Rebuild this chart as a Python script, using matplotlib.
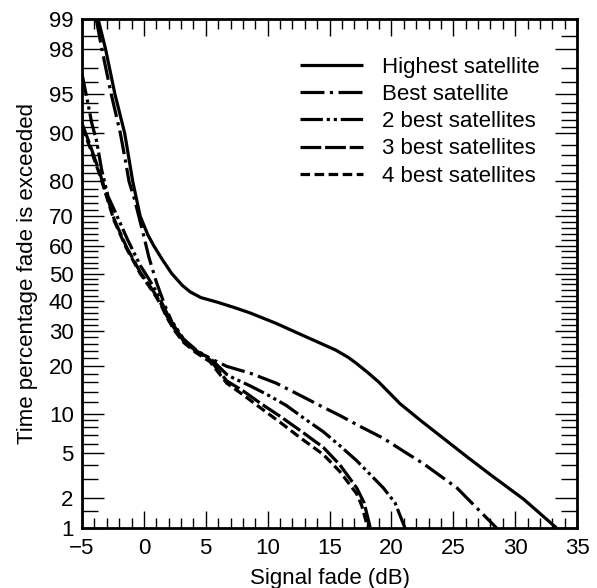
import numpy as np
import matplotlib
matplotlib.use("Agg")
import matplotlib.pyplot as plt
from matplotlib.ticker import FixedLocator, FixedFormatter, NullFormatter
from statistics import NormalDist

# ---------------- data ----------------
highest_fade = [-3.7, -3.1, -2.35, -1.55, -0.9, -0.3, 0.3, 0.8, 1.5, 2.25, 3.1, 3.75, 4.6, 5.9,
                7.3, 8.6, 10.7, 12.6, 14.2, 15.5, 16.5, 17.2, 18.2, 19.0, 20.7, 22.4, 24.2, 26.1,
                28.0, 30.7, 33.35]
highest_pct = [99, 98, 95, 90, 80, 70, 64, 60, 55, 50, 45.7, 43.3, 41.3, 39.7,
               37.8, 35.9, 32.4, 29.0, 26.3, 24.2, 22.2, 20.5, 18.0, 16.0, 11.7, 8.9, 6.6, 4.7,
               3.3, 1.95, 1.0]

best1_fade = [-3.85, -3.4, -2.65, -1.9, -1.5, -1.2, -0.75, -0.1, 0.4, 1.0, 1.7, 2.3, 3.2, 4.2,
              5.3, 6.7, 8.6, 10.7, 12.6, 14.2, 15.85, 17.6, 19.35, 21.0, 22.6, 25.3, 28.5]
best1_pct = [99, 98, 95, 90, 85, 80, 75, 65, 56, 47, 38.5, 32.5, 27, 24,
             22, 19.8, 18.1, 15.8, 13.3, 11.4, 9.7, 8.0, 6.6, 5.2, 4.1, 2.5, 1.0]

best2_fade = [-5.0, -4.49, -4.22, -3.81, -3.41, -2.9, -2.4, -1.3, -0.3, 0.4, 1.0, 1.5, 1.9,
              3.2, 4.3, 5.4, 6.7, 7.2, 8.6, 9.9, 11.5, 13.0, 14.5, 15.9, 17.2, 18.3, 19.35, 20.3, 21.1]
best2_pct = [96.6, 93.8, 91.6, 88.6, 82.8, 76, 72, 62, 53, 48, 43.5, 39, 35.5,
             27.5, 24, 21.8, 17.8, 17, 15.2, 13.5, 11.4, 9.2, 7.4, 5.7, 4.35, 3.3, 2.5, 1.8, 1.0]

best3_fade = [-5.0, -4.35, -3.55, -2.4, -1.4, -0.9, -0.3, 0.4, 1.0, 1.46, 1.84, 2.5, 3.19, 4.2,
              5.34, 6.7, 8.0, 9.4, 11.0, 12.6, 14.5, 15.85, 17.2, 17.8, 18.3]
best3_pct = [91.5, 88, 82, 69, 59.5, 55.5, 50.5, 46, 42, 38.5, 35, 30.5, 27, 24,
             21.5, 16.3, 14.2, 11.8, 9.6, 7.6, 5.6, 4.0, 2.5, 1.8, 1.0]

best4_fade = [-5.0, -4.35, -3.55, -2.4, -1.4, -0.9, -0.3, 0.4, 1.0, 1.46, 1.84, 2.5, 3.19, 4.2,
              5.34, 6.7, 8.0, 9.4, 11.0, 12.6, 14.5, 15.85, 17.2, 17.6, 18.1]
best4_pct = [91, 87.5, 81.5, 68.5, 59, 55, 50, 45.5, 41.5, 38, 34.5, 30, 26.5, 23.5,
             21, 15.8, 13.4, 11, 8.7, 6.7, 4.9, 3.5, 2.2, 1.7, 1.0]

labels = ["Highest satellite", "Best satellite", "2 best satellites",
          "3 best satellites", "4 best satellites"]

y_major = [1, 2, 5, 10, 20, 30, 40, 50, 60, 70, 80, 90, 95, 98, 99]
y_minor = [1.5, 3, 4, 6, 7, 8, 9, 12, 14, 16, 18, 22, 24, 26, 28, 32, 34, 36, 38,
           42, 44, 46, 48, 52, 54, 56, 58, 62, 64, 66, 68, 72, 74, 76, 78,
           82, 84, 86, 88, 91, 92, 93, 94, 96, 97, 98.5]
x_major = [-5, 0, 5, 10, 15, 20, 25, 30, 35]

# ---------------- probability (probit) scale ----------------
_nd = NormalDist()
_ppf = np.vectorize(_nd.inv_cdf, otypes=[float])
_cdf = np.vectorize(_nd.cdf, otypes=[float])

def fwd(p):
    p = np.clip(np.asarray(p, dtype=float) / 100.0, 1e-9, 1 - 1e-9)
    return _ppf(p)

def inv(z):
    return _cdf(np.asarray(z, dtype=float)) * 100.0

plt.rcParams['font.family'] = ['Liberation Sans', 'DejaVu Sans']

fig = plt.figure(figsize=(5.97, 5.88), dpi=100)
ax = fig.add_axes([82 / 597, 60 / 588, 495 / 597, 509 / 588])
ax.set_yscale('function', functions=(fwd, inv))

lw = 2.3
series = [
    (highest_fade, highest_pct, '-'),
    (best1_fade, best1_pct, (0, (7.5, 1.7, 1.0, 1.7))),
    (best2_fade, best2_pct, (0, (7.0, 1.2, 1.0, 1.2, 1.0, 1.2))),
    (best3_fade, best3_pct, (0, (6.5, 1.2))),
    (best4_fade, best4_pct, (0, (3.0, 1.4))),
]
for (xs, ys, ls), lab in zip(series, labels):
    ax.plot(xs, ys, color='black', lw=lw, linestyle=ls, label=lab,
            solid_capstyle='butt', dash_capstyle='butt', solid_joinstyle='round')

ax.set_xlim(-5, 35)
ax.set_ylim(1, 99)

ax.xaxis.set_major_locator(FixedLocator(x_major))
ax.xaxis.set_minor_locator(FixedLocator(np.arange(-5, 36, 1)))
ax.yaxis.set_major_locator(FixedLocator(y_major))
ax.yaxis.set_major_formatter(FixedFormatter([str(v) for v in y_major]))
ax.yaxis.set_minor_locator(FixedLocator(y_minor))
ax.yaxis.set_minor_formatter(NullFormatter())

fs = 16
ax.tick_params(axis='both', which='both', direction='in', top=True, right=True,
               color='black', labelsize=fs)
ax.tick_params(axis='y', which='major', length=15.5, width=1.0, pad=6)
ax.tick_params(axis='y', which='minor', length=11.5, width=1.0)
ax.tick_params(axis='x', which='major', length=12, width=1.0, pad=7.5)
ax.tick_params(axis='x', which='minor', length=7.5, width=1.0)
for sp in ax.spines.values():
    sp.set_linewidth(2.0)

ax.set_xlabel("Signal fade (dB)", fontsize=fs, labelpad=6)
ax.set_ylabel("Time percentage fade is exceeded", fontsize=fs, labelpad=8)

ax.legend(loc='upper left', bbox_to_anchor=(0.44, 0.926), frameon=False, fontsize=fs,
          handlelength=2.84, handletextpad=0.84, labelspacing=0.28, borderpad=0,
          borderaxespad=0)

fig.savefig("out.png", dpi=100)
